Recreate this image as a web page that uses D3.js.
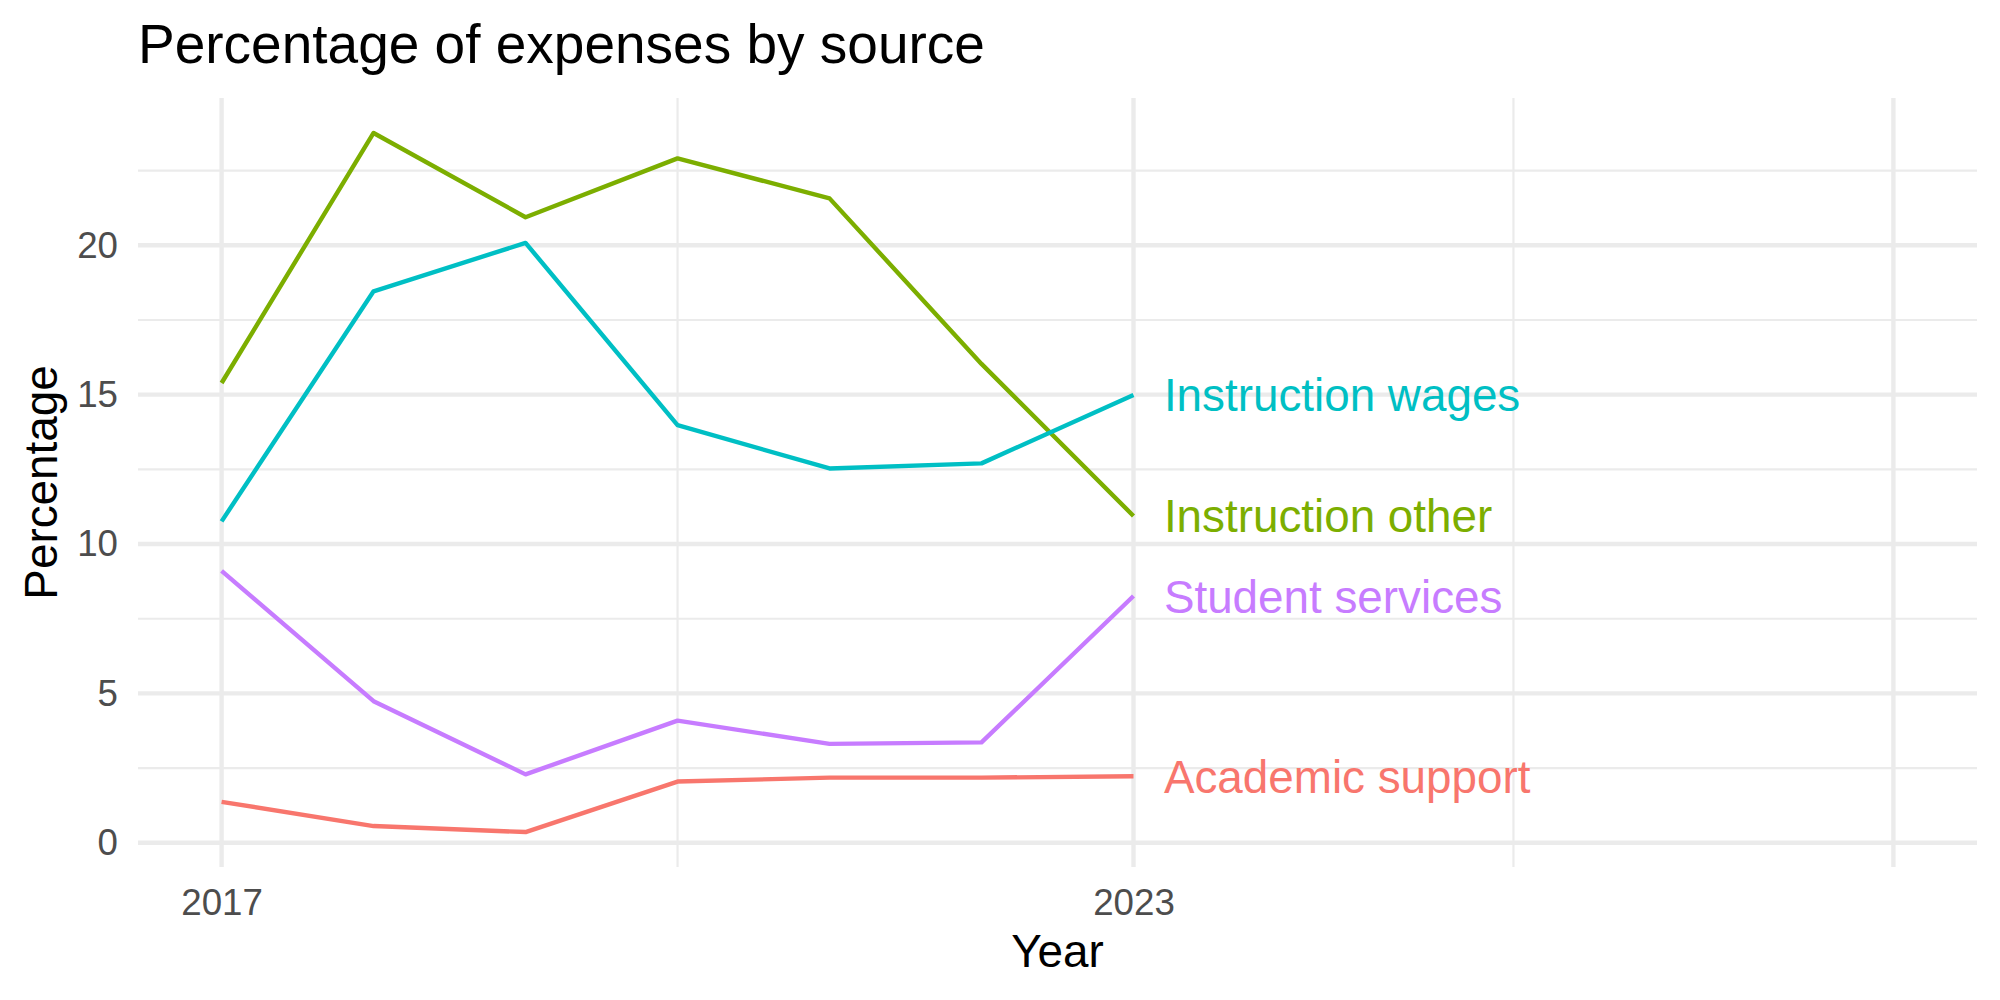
<!DOCTYPE html>
<html>
<head>
<meta charset="utf-8">
<script src="https://cdn.jsdelivr.net/npm/d3@7"></script>
<style>
    body { margin: 0; background: #fff; }
    text { font-family: "Liberation Sans", Arial, sans-serif; }
</style>
</head>
<body>
<svg id="chart"></svg>
<script>
'use strict';

const WIDTH = 2000;
const HEIGHT = 1000;

// data
const years = [2017, 2018, 2019, 2020, 2021, 2022, 2023];
const series = ['Academic support', 'Instruction other', 'Instruction wages', 'Student services'];
const academicSupport = [1.37, 0.56, 0.36, 2.05, 2.18, 2.18, 2.23];
const instructionOther = [15.39, 23.76, 20.94, 22.91, 21.57, 16.03, 10.94];
const instructionWages = [10.76, 18.46, 20.08, 13.98, 12.53, 12.70, 14.99];
const studentServices = [9.10, 4.74, 2.29, 4.09, 3.31, 3.36, 8.26];

const xMajor = [2017, 2023, 2028];
const xMajorLabels = ['2017', '2023', ''];
const xMinor = [2020, 2025.5];
const yMajor = [0, 5, 10, 15, 20];
const yMinor = [2.5, 7.5, 12.5, 17.5, 22.5];

// ggplot hue palette
const COLOR = {
    'Academic support': '#F8766D',
    'Instruction other': '#7CAE00',
    'Instruction wages': '#00BFC4',
    'Student services': '#C77CFF'
};

const values = [academicSupport, instructionOther, instructionWages, studentServices];
const lines = series.map(function(name, i) {
    return { name: name, points: years.map(function(yr, j) { return { year: yr, v: values[i][j] }; }) };
});

const panel = { left: 138, right: 1977, top: 98, bottom: 867 };

const svg = d3.select('#chart').attr('width', WIDTH).attr('height', HEIGHT);
svg.append('rect').attr('width', WIDTH).attr('height', HEIGHT).attr('fill', '#fff');

// x limits 2017..2028 with 5% expansion, y data range with 5% expansion
const x = d3.scaleLinear().domain([2017 - 0.55, 2028 + 0.55]).range([panel.left, panel.right]);
const allV = [].concat.apply([], values);
const vMin = d3.min(allV), vMax = d3.max(allV);
const pad = (vMax - vMin) * 0.05;
const y = d3.scaleLinear().domain([vMin - pad, vMax + pad]).range([panel.bottom, panel.top]);

const grid = svg.append('g');
grid.selectAll('line.ymin').data(yMinor).enter().append('line')
    .attr('x1', panel.left).attr('x2', panel.right)
    .attr('y1', function(d) { return y(d); }).attr('y2', function(d) { return y(d); })
    .attr('stroke', '#EBEBEB').attr('stroke-width', 2.2);
grid.selectAll('line.xmin').data(xMinor).enter().append('line')
    .attr('y1', panel.top).attr('y2', panel.bottom)
    .attr('x1', function(d) { return x(d); }).attr('x2', function(d) { return x(d); })
    .attr('stroke', '#EBEBEB').attr('stroke-width', 2.2);
grid.selectAll('line.ymaj').data(yMajor).enter().append('line')
    .attr('x1', panel.left).attr('x2', panel.right)
    .attr('y1', function(d) { return y(d); }).attr('y2', function(d) { return y(d); })
    .attr('stroke', '#EBEBEB').attr('stroke-width', 4.4);
grid.selectAll('line.xmaj').data(xMajor).enter().append('line')
    .attr('y1', panel.top).attr('y2', panel.bottom)
    .attr('x1', function(d) { return x(d); }).attr('x2', function(d) { return x(d); })
    .attr('stroke', '#EBEBEB').attr('stroke-width', 4.4);

// axes (labels only)
const xAxis = svg.append('g')
    .attr('transform', 'translate(0,' + panel.bottom + ')')
    .call(d3.axisBottom(x).tickValues(xMajor)
        .tickFormat(function(d, i) { return xMajorLabels[i]; })
        .tickSize(0).tickPadding(22));
const yAxis = svg.append('g')
    .attr('transform', 'translate(' + panel.left + ',0)')
    .call(d3.axisLeft(y).tickValues(yMajor).tickSize(0).tickPadding(20));
[xAxis, yAxis].forEach(function(a) {
    a.select('.domain').remove();
    a.selectAll('text')
        .attr('font-family', '"Liberation Sans", Arial, sans-serif')
        .attr('font-size', 36.7)
        .attr('fill', '#4D4D4D');
});

// series lines
const line = d3.line()
    .x(function(d) { return x(d.year); })
    .y(function(d) { return y(d.v); });
svg.append('g').selectAll('path').data(lines).enter().append('path')
    .attr('d', function(d) { return line(d.points); })
    .attr('fill', 'none')
    .attr('stroke', function(d) { return COLOR[d.name]; })
    .attr('stroke-width', 4.4)
    .attr('stroke-linejoin', 'round');

// end labels
svg.append('g').selectAll('text').data(lines).enter().append('text')
    .attr('x', function(d) { return x(d.points[d.points.length - 1].year + 0.2); })
    .attr('y', function(d) { return y(d.points[d.points.length - 1].v); })
    .attr('dy', '0.36em')
    .attr('font-size', 45.8)
    .attr('fill', function(d) { return COLOR[d.name]; })
    .text(function(d) { return d.name; });

// titles
svg.append('text').attr('x', 138).attr('y', 62.7)
    .attr('font-size', 55).attr('fill', '#000')
    .text('Percentage of expenses by source');
svg.append('text').attr('x', (panel.left + panel.right) / 2).attr('y', 967)
    .attr('text-anchor', 'middle').attr('font-size', 45.8).attr('fill', '#000')
    .text('Year');
svg.append('text')
    .attr('transform', 'translate(57,' + (panel.top + panel.bottom) / 2 + ') rotate(-90)')
    .attr('text-anchor', 'middle').attr('font-size', 45.8).attr('fill', '#000')
    .text('Percentage');
</script>
</body>
</html>
